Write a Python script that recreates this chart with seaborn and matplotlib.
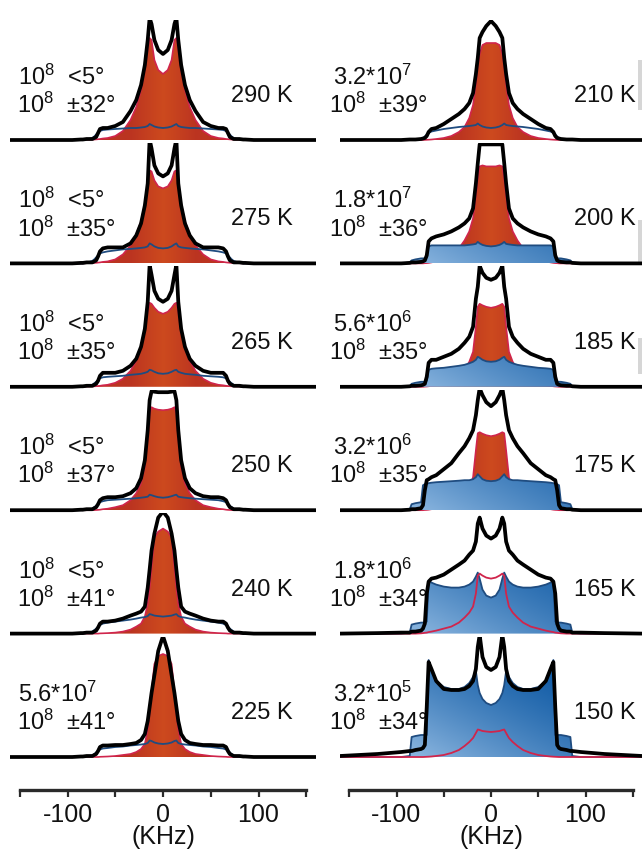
import numpy as np
import matplotlib
matplotlib.use("Agg")
import matplotlib.pyplot as plt
import seaborn as sns
from matplotlib.colors import to_rgb
from matplotlib.patches import Rectangle

# one side of the frequency axis (kHz); every spectrum is symmetric about 0
x_half = [0, 5, 9, 12, 14, 16, 19, 23, 28, 34, 42, 50, 58, 63, 66, 68, 70, 72, 74, 80, 84, 86, 95, 120, 160]

# heights above each baseline (pixels)
# left column
black_290 = [86, 90, 100, 116, 122, 100, 75, 55, 40, 29, 18, 14, 12, 12, 11, 7, 3, 2, 1, 1, 0.5, 0.5, 0, 0, 0]
red_290 = [66, 70, 80, 100, 102, 90, 70, 50, 33, 20, 9, 4, 2, 1.5, 1, 0.8, 0.6, 0.5, 0.4, 0.2, 0, 0, 0, 0, 0]
blue_290 = [12, 12.5, 13.5, 15, 16, 14, 13, 12.5, 12, 12, 11.5, 11, 10.5, 10, 9, 7.5, 5.5, 3.5, 2, 0.5, 0, 0, 0, 0, 0]

black_275 = [87, 90, 98, 115, 124, 80, 58, 40, 28, 20, 16, 16, 16, 15, 12, 7, 3, 2, 1, 1, 0.5, 0.5, 0, 0, 0]
red_275 = [75, 77, 83, 92, 93, 78, 60, 42, 29, 18, 9, 4, 2, 1.5, 1, 0.8, 0.6, 0.5, 0.4, 0.2, 0, 0, 0, 0, 0]
blue_275 = [15, 15.5, 17, 19, 20, 17, 16, 15.5, 15, 14.5, 14, 13, 12, 11, 10, 8, 6, 4, 2.5, 0.5, 0, 0, 0, 0, 0]

black_265 = [85, 88, 96, 112, 122, 85, 58, 40, 28, 21, 16, 14, 14, 14, 11, 6, 3, 2, 1, 1, 0.5, 0.5, 0, 0, 0]
red_265 = [73, 75, 79, 83, 84, 75, 55, 38, 26, 16, 8, 4, 2, 1.5, 1, 0.8, 0.6, 0.5, 0.4, 0.2, 0, 0, 0, 0, 0]
blue_265 = [13, 13.5, 15, 16.5, 17, 15, 14, 13, 12.5, 12, 11, 10.5, 10, 9.5, 8.5, 7, 5, 3.5, 2, 0.5, 0, 0, 0, 0, 0]

black_250 = [118, 118, 118.5, 119, 110, 80, 50, 32, 22, 17, 14, 13, 13, 12, 10, 6, 3, 2, 1, 1, 0.5, 0.5, 0, 0, 0]
red_250 = [100, 100.5, 101.5, 103, 96, 72, 44, 27, 17, 10, 5, 3, 1.5, 1, 0.5, 0.3, 0.2, 0.1, 0, 0, 0, 0, 0, 0, 0]
blue_250 = [12.5, 13, 14, 15, 15.5, 13.5, 13, 12.5, 12, 11.5, 11, 10.5, 10, 9, 8, 6.5, 4.5, 3, 1.5, 0.5, 0, 0, 0, 0, 0]

black_240 = [122, 116, 100, 83, 64, 46, 27, 22, 20, 18, 15, 13, 12, 12, 10, 6, 3, 2, 1, 1, 0.5, 0.5, 0, 0, 0]
red_240 = [105, 102, 96, 66, 46, 30, 17, 10, 7, 4, 2, 1, 0.5, 0.3, 0.2, 0, 0, 0, 0, 0, 0, 0, 0, 0, 0]
blue_240 = [17, 17.5, 18, 19, 19.5, 17.5, 16.5, 16, 15, 14, 13, 12, 11, 10, 8.5, 7, 5, 3.5, 2, 0.5, 0, 0, 0, 0, 0]

black_225 = [121, 106, 82, 64, 50, 36, 23, 17, 14, 13, 12, 12, 11.5, 11.5, 10, 6, 3, 2, 1, 1, 0.5, 0.5, 0, 0, 0]
red_225 = [103, 101, 93, 65, 44, 28, 13, 8, 5, 3, 2, 1, 0.5, 0.3, 0.2, 0, 0, 0, 0, 0, 0, 0, 0, 0, 0]
blue_225 = [13, 13.5, 14.5, 16, 16.5, 14, 13, 12.5, 12, 11.5, 10.5, 10, 9, 8.5, 7.5, 6.5, 4.5, 3, 1.5, 0.5, 0, 0, 0, 0, 0]

# right column
black_210 = [119, 114, 108, 102, 82, 66, 47, 37, 31, 26, 21, 16, 12, 11, 8, 4, 2, 1.5, 1, 0.5, 0.5, 0.5, 0, 0, 0]
red_210 = [97, 97, 95, 86, 74, 56, 35, 22, 13, 8, 4, 2, 1, 0.5, 0.3, 0.2, 0.1, 0, 0, 0, 0, 0, 0, 0, 0]
blue_210 = [12, 12.5, 13.5, 15, 16.5, 15, 14.5, 14, 13.5, 13, 12, 11, 9.5, 8.5, 7, 5.5, 3.5, 2, 1, 0.3, 0, 0, 0, 0, 0]

black_200 = [119, 119, 119, 119, 100, 80, 55, 45, 40, 36, 32, 29, 27, 25, 22, 8, 3, 2, 1.5, 1, 1, 0.5, 0, 0, 0]
red_200 = [97, 97, 98, 97, 85, 68, 45, 32, 23, 15, 8, 4, 2, 1, 0.5, 0.3, 0.2, 0, 0, 0, 0, 0, 0, 0, 0]
blue_200 = [17, 17.5, 18.5, 20, 21.5, 19.5, 19, 18.5, 18, 18, 18, 18, 18, 18, 17, 6, 5, 5, 5, 4, 3, 1, 0, 0, 0]

black_185 = [107, 109, 114, 121, 100, 88, 60, 50, 44, 38, 33, 30, 27, 27, 24, 10, 3, 2, 1.5, 1, 1, 0.5, 0, 0, 0]
red_185 = [79, 80, 81.5, 83, 80, 60, 35, 25, 17, 11, 6, 3, 1.5, 1, 0.5, 0.3, 0.2, 0, 0, 0, 0, 0, 0, 0, 0]
blue_185 = [25, 25.5, 27, 29, 30, 27, 25, 23.5, 22, 21, 20, 19, 18.5, 18, 17, 6, 5, 5, 5, 4, 3, 0.5, 0, 0, 0]

black_175 = [104, 108, 115, 122, 110, 95, 80, 72, 64, 57, 47, 41, 35, 33, 31, 30, 20, 5, 2, 1, 1, 0.5, 0, 0, 0]
red_175 = [74, 75, 76.5, 78, 77, 60, 33, 22, 15, 10, 5, 3, 1.5, 1, 0.5, 0.3, 0.2, 0, 0, 0, 0, 0, 0, 0, 0]
blue_175 = [29, 29.5, 31, 34, 36, 33, 31, 30, 30, 29.5, 29, 28.5, 28, 27.5, 27, 26.5, 26, 25, 8, 7, 6, 1, 0, 0, 0]

black_165 = [95, 98, 105, 116, 110, 92, 83, 79, 73, 69, 64, 59, 56, 55, 52, 40, 10, 5, 3, 2, 2, 1, 1, 0.5, 0]
red_165 = [55, 56, 58, 60, 58, 40, 27, 21, 16, 11, 7, 5, 3, 2, 1.5, 1, 0.8, 0.5, 0.3, 0, 0, 0, 0, 0, 0]
blue_165 = [36, 38, 44, 55, 61, 57, 52, 49, 47, 46, 46, 47, 49, 51, 53, 12, 11, 11, 11, 10, 9, 1, 0, 0, 0]

black_150 = [87, 90, 100, 122, 110, 88, 76, 71, 68, 67, 67, 68, 76, 88, 95, 50, 12, 9, 8, 7, 6, 6, 5, 3, 1]
red_150 = [25, 25.5, 26, 27, 27.5, 24, 19, 15, 11, 7, 4, 2, 1, 0.5, 0.3, 0.2, 0.1, 0, 0, 0, 0, 0, 0, 0, 0]
blue_150 = [52, 54, 58, 64, 72, 86, 80, 74, 70, 68, 68, 70, 76, 86, 97, 22, 22, 22, 22, 21, 20, 1, 0, 0, 0]

temps_left = ["290 K", "275 K", "265 K", "250 K", "240 K", "225 K"]
temps_right = ["210 K", "200 K", "185 K", "175 K", "165 K", "150 K"]
rate_left = ["10$^8$  <5°"] * 5 + ["5.6*10$^7$"]
angle_left = ["10$^8$  ±32°", "10$^8$  ±35°", "10$^8$  ±35°", "10$^8$  ±37°", "10$^8$  ±41°", "10$^8$  ±41°"]
rate_right = ["3.2*10$^7$", "1.8*10$^7$", "5.6*10$^6$", "3.2*10$^6$", "1.8*10$^6$", "3.2*10$^5$"]
angle_right = ["10$^8$  ±39°", "10$^8$  ±36°", "10$^8$  ±35°", "10$^8$  ±35°", "10$^8$  ±34°", "10$^8$  ±34°"]

tick_pos = [-150, -100, -50, 0, 50, 100, 150]
tick_lab = ["", "-100", "", "0", "", "100", ""]

# which components are drawn as filled areas
red_filled_left = [True] * 6
blue_filled_left = [False] * 6
red_filled_right = [True, True, True, True, False, False]
blue_filled_right = [False, True, True, True, True, True]

left_col = [(black_290, red_290, blue_290), (black_275, red_275, blue_275),
            (black_265, red_265, blue_265), (black_250, red_250, blue_250),
            (black_240, red_240, blue_240), (black_225, red_225, blue_225)]
right_col = [(black_210, red_210, blue_210), (black_200, red_200, blue_200),
             (black_185, red_185, blue_185), (black_175, red_175, blue_175),
             (black_165, red_165, blue_165), (black_150, red_150, blue_150)]

sns.set_theme(style="white")
plt.rcParams["font.family"] = ["Liberation Sans", "DejaVu Sans"]
plt.rcParams["mathtext.fontset"] = "custom"
plt.rcParams["mathtext.rm"] = "Liberation Sans"
plt.rcParams["mathtext.it"] = "Liberation Sans:italic"
plt.rcParams["axes.unicode_minus"] = False

W, H = 643, 850
fig = plt.figure(figsize=(W / 100, H / 100), dpi=100)
fig.patch.set_facecolor("white")

TXT = "#111111"
RED_LINE = "#d0254c"
BLUE_LINE = "#1f4c80"


def mirror(v):
    return list(v[:0:-1]) + list(v)


x_full = np.array([-v for v in x_half[:0:-1]] + list(x_half), dtype=float)

# gradient images for the filled components
ext = (-100, 100, 0, 125)
gx, gy = np.meshgrid(np.linspace(-100, 100, 240), np.linspace(0, 125, 150))
tb = np.clip(0.5 * (90 - gx) / 180 + 0.55 * (1 - gy / 100), 0, 1) ** 1.4
blue_dark, blue_light = np.array(to_rgb("#0a56a2")), np.array(to_rgb("#86b2dd"))
blue_img = blue_dark + (blue_light - blue_dark) * tb[..., None]
tr = np.clip(np.abs(gx) / 35, 0, 1)
red_mid, red_edge = np.array(to_rgb("#cd4a1e")), np.array(to_rgb("#bb3421"))
red_img = red_mid + (red_edge - red_mid) * tr[..., None]


def grad_fill(ax, x, y, img, z):
    poly = ax.fill_between(x, 0, y, facecolor="none", edgecolor="none")
    im = ax.imshow(img, extent=ext, origin="lower", aspect="auto",
                   interpolation="bilinear", zorder=z)
    im.set_clip_path(poly.get_paths()[0], transform=ax.transData)


def draw_panel(ax, blk, red, blue, red_fill, blue_fill):
    k = np.array(mirror(blk), dtype=float)
    r = np.array(mirror(red), dtype=float)
    b = np.array(mirror(blue), dtype=float)
    if red_fill:
        grad_fill(ax, x_full, r, red_img, 1)
        sns.lineplot(x=x_full, y=r, ax=ax, color=RED_LINE, linewidth=1.2,
                     estimator=None, sort=False, zorder=2)
    if blue_fill:
        grad_fill(ax, x_full, b, blue_img, 3)
    sns.lineplot(x=x_full, y=b, ax=ax, color=BLUE_LINE, linewidth=1.3,
                 estimator=None, sort=False, zorder=4)
    if not red_fill:
        sns.lineplot(x=x_full, y=r, ax=ax, color=RED_LINE, linewidth=1.3,
                     estimator=None, sort=False, zorder=5)
    sns.lineplot(x=x_full, y=k, ax=ax, color="black", linewidth=2.7,
                 estimator=None, sort=False, zorder=6)
    ax.set_xlim(-160, 160)
    ax.set_ylim(-3, 120.4)
    ax.set_axis_off()
    ax.patch.set_visible(False)


base0, step = 140, 123.4
cols = [
    dict(center=163, scale=0.955, data=left_col, rf=red_filled_left, bf=blue_filled_left,
         rate=rate_left, angle=angle_left, temps=temps_left, x_rate=18, x_ang=17, x_t=231),
    dict(center=491, scale=0.945, data=right_col, rf=red_filled_right, bf=blue_filled_right,
         rate=rate_right, angle=angle_right, temps=temps_right, x_rate=333, x_ang=329, x_t=574),
]

for c in cols:
    half = 160 * c["scale"]
    for i in range(6):
        b = base0 + step * i
        ax = fig.add_axes([(c["center"] - half) / W, (H - (b + 3)) / H,
                           2 * half / W, 123.4 / H])
        blk, red, blue = c["data"][i]
        draw_panel(ax, blk, red, blue, c["rf"][i], c["bf"][i])
        fig.text(c["x_rate"] / W, 1 - (b - 55) / H, c["rate"][i], fontsize=17,
                 color=TXT, va="baseline", ha="left", zorder=-1)
        fig.text(c["x_ang"] / W, 1 - (b - 27) / H, c["angle"][i], fontsize=17,
                 color=TXT, va="baseline", ha="left", zorder=-1)
        fig.text(c["x_t"] / W, 1 - (b - 38) / H, c["temps"][i], fontsize=17,
                 color=TXT, va="baseline", ha="left", zorder=-1)

    # frequency axis under the column
    axb = fig.add_axes([(c["center"] - 150 * c["scale"]) / W, (H - 790) / H,
                        300 * c["scale"] / W, 0.0005])
    axb.set_xlim(-150, 150)
    axb.set_yticks([])
    for s in ["left", "right", "top"]:
        axb.spines[s].set_visible(False)
    axb.spines["bottom"].set_linewidth(2.4)
    axb.spines["bottom"].set_color("#2a2a2a")
    axb.set_xticks(tick_pos)
    axb.set_xticklabels(tick_lab)
    axb.tick_params(axis="x", direction="out", length=5, width=1.6, color="#2a2a2a",
                    labelsize=18, labelcolor=TXT, pad=4, bottom=True)
    axb.patch.set_visible(False)
    fig.text(c["center"] / W, 1 - 837 / H, "(KHz)", fontsize=18, color=TXT,
             ha="center", va="center")

# thin grey scan marks at the right edge of the original
for y0, hgt in [(60, 50), (220, 42), (338, 36)]:
    fig.patches.append(Rectangle((638 / W, 1 - (y0 + hgt) / H), 4 / W, hgt / H,
                                 transform=fig.transFigure, facecolor="#d6d6d6",
                                 edgecolor="none", zorder=-2))

fig.savefig("out.png", dpi=100, facecolor="white")
